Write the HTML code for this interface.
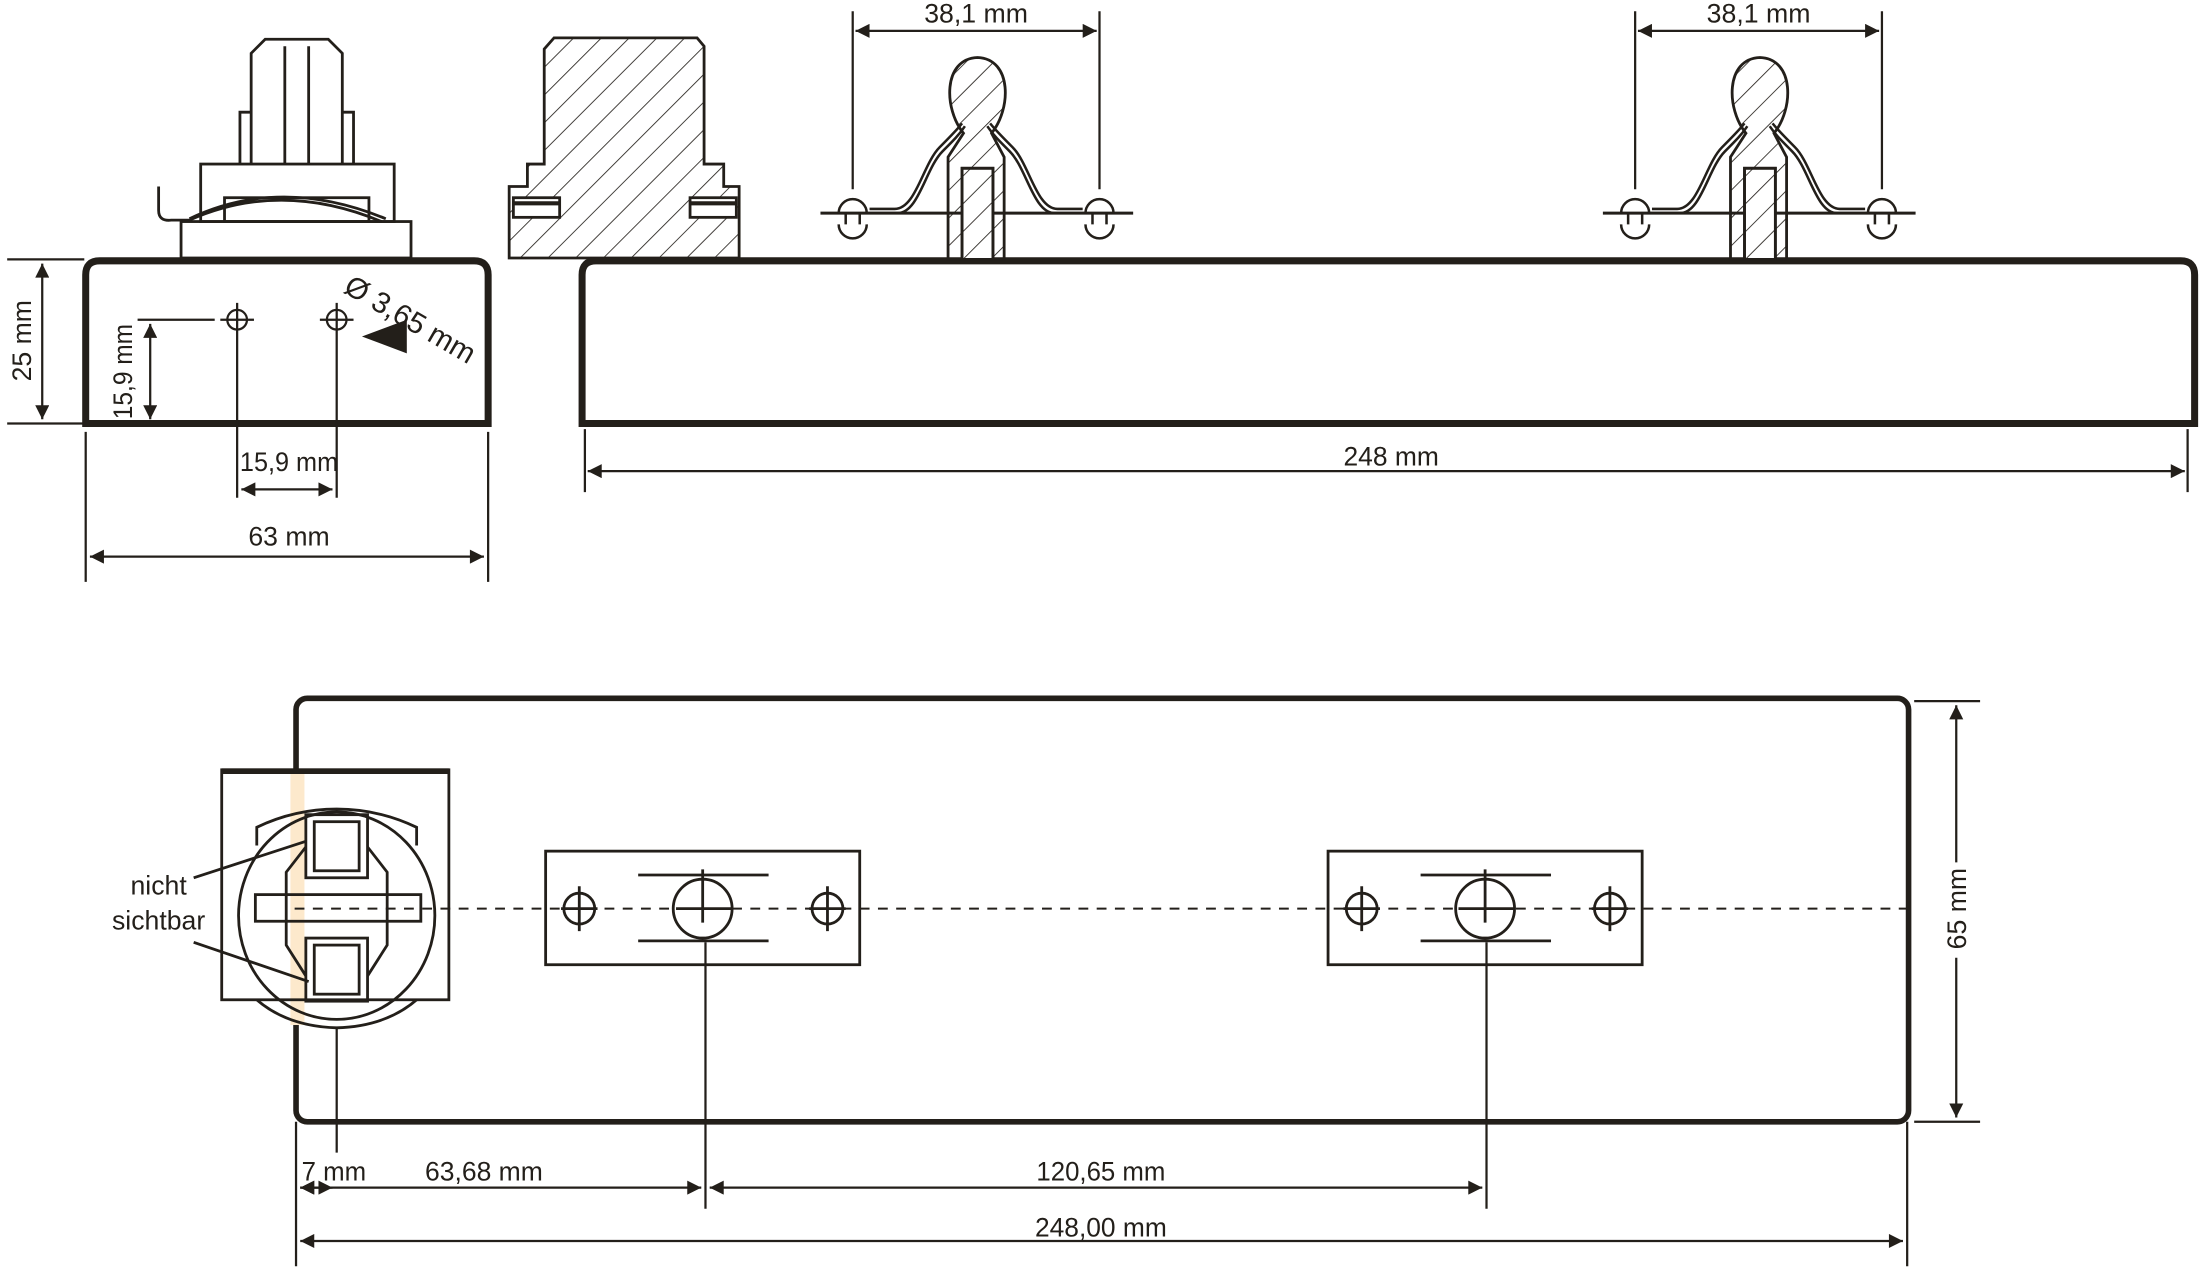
<!DOCTYPE html>
<html><head><meta charset="utf-8"><style>html,body{margin:0;padding:0;background:#fff}svg{display:block}</style></head><body>
<svg width="2199" height="1269" viewBox="0 0 1568 905" xmlns="http://www.w3.org/2000/svg" font-family="Liberation Sans, sans-serif" fill="none" stroke="#231f1a" stroke-width="1.6">
<defs>
<marker id="a" viewBox="0 0 10 10" refX="10" refY="5" markerWidth="12" markerHeight="10" markerUnits="userSpaceOnUse" orient="auto-start-reverse"><path d="M0,0L10,5L0,10z" fill="#231f1a" stroke="none"/></marker>
<pattern id="h" width="14" height="14" patternUnits="userSpaceOnUse" patternTransform="rotate(45)"><line x1="0" y1="0" x2="0" y2="14" stroke="#231f1a" stroke-width="1.2"/></pattern>
<g id="clip">
<line x1="608" y1="8" x2="608" y2="135"/><line x1="784" y1="8" x2="784" y2="135"/>
<line x1="610" y1="22" x2="782" y2="22" marker-start="url(#a)" marker-end="url(#a)"/>
<line x1="585" y1="152" x2="808" y2="152" stroke-width="2.2"/>
<path d="M598,152A10,10 0 0 1 618,152 M598,160A10,10 0 0 0 618,160 M603,152v8 M613,152v8 M774,152A10,10 0 0 1 794,152 M774,160A10,10 0 0 0 794,160 M779,152v8 M789,152v8" stroke-width="1.8"/>
<path d="M687,95 C673,78 672,42 697,41 C722,42 721,78 707,95 L716,112 L716,185 L676,185 L676,112 Z" fill="url(#h)" stroke-width="2"/>
<rect x="686" y="120" width="22" height="65" fill="#fff" stroke-width="2"/>
<rect x="686" y="120" width="22" height="65" fill="url(#h)" stroke-width="2"/>
<path d="M618,152 H640 C655,152 660,120 672,108 C680,100 684,96 688,90 M620,149 H638 C653,149 658,117 670,105 C678,97 682,93 686,88" stroke-width="1.8"/>
<path d="M774,152 H752 C737,152 732,120 720,108 C712,100 708,96 704,90 M772,149 H754 C739,149 734,117 722,105 C714,97 710,93 706,88" stroke-width="1.8"/>
<text x="696" y="16" font-size="19" fill="#231f1a" stroke="none" text-anchor="middle" textLength="74" lengthAdjust="spacingAndGlyphs">38,1 mm</text>
</g>
<g id="plate">
<rect x="389" y="607" width="224" height="81" stroke-width="2"/>
<circle cx="413" cy="648" r="11" stroke-width="2"/><circle cx="501" cy="648" r="21" stroke-width="2"/><circle cx="590" cy="648" r="11" stroke-width="2"/>
<path d="M413,632v32M400,648h26M590,632v32M577,648h26M501,620v38M482,648h40M455,624h93M455,671h93" stroke-width="2"/>
</g>
</defs>
<g fill="#231f1a" stroke="none" font-size="19">
<text x="206" y="389" text-anchor="middle" textLength="58" lengthAdjust="spacingAndGlyphs">63 mm</text>
<text x="206" y="336" text-anchor="middle" textLength="70" lengthAdjust="spacingAndGlyphs">15,9 mm</text>
<text transform="translate(22,243) rotate(-90)" text-anchor="middle">25 mm</text>
<text transform="translate(94,265) rotate(-90)" text-anchor="middle" textLength="68" lengthAdjust="spacingAndGlyphs">15,9 mm</text>
<text transform="translate(244,208) rotate(30)" font-size="21">Ø 3,65 mm</text>
<text x="992" y="332" text-anchor="middle" textLength="68" lengthAdjust="spacingAndGlyphs">248 mm</text>
<text x="238" y="842" text-anchor="middle" textLength="46" lengthAdjust="spacingAndGlyphs">7 mm</text>
<text x="345" y="842" text-anchor="middle" textLength="84" lengthAdjust="spacingAndGlyphs">63,68 mm</text>
<text x="785" y="842" text-anchor="middle" textLength="92" lengthAdjust="spacingAndGlyphs">120,65 mm</text>
<text x="785" y="882" text-anchor="middle" textLength="94" lengthAdjust="spacingAndGlyphs">248,00 mm</text>
<text transform="translate(1402,648) rotate(-90)" text-anchor="middle">65 mm</text>
<text x="113" y="638" text-anchor="middle">nicht</text>
<text x="113" y="663" text-anchor="middle">sichtbar</text>
</g>
<!-- left end view -->
<path d="M61,302 V196 Q61,186 71,186 H338 Q348,186 348,196 V302 Z" stroke-width="5"/>
<path d="M5,185h55M5,302h55" /><line x1="30" y1="188" x2="30" y2="299" marker-start="url(#a)" marker-end="url(#a)"/>
<circle cx="169" cy="228" r="7"/><circle cx="240" cy="228" r="7"/>
<path d="M157,228h24M169,216v24M228,228h24M240,216v24M169,240v115M240,240v115M98,228h55"/>
<line x1="107" y1="231" x2="107" y2="299" marker-start="url(#a)" marker-end="url(#a)"/>
<line x1="172" y1="349" x2="237" y2="349" marker-start="url(#a)" marker-end="url(#a)"/>
<path d="M61,308v107M348,308v107"/><line x1="64" y1="397" x2="345" y2="397" marker-start="url(#a)" marker-end="url(#a)"/>
<path d="M258,240L290,228L290,252Z" fill="#231f1a" stroke="none"/>
<!-- holder side -->
<path d="M179,117V38L189,28H234L244,38V117M203,33V117M220,33V117M171,117V80h8M252,117V80h-8" stroke-width="2"/>
<rect x="143" y="117" width="138" height="41" stroke-width="2"/><rect x="160" y="141" width="103" height="17" stroke-width="2"/>
<rect x="129" y="158" width="164" height="26" stroke-width="2"/>
<path d="M113,133V150Q113,158 122,157H135 Q200,128 272,158 M135,156 Q200,125 275,156" stroke-width="2"/>
<!-- hatched block -->
<path d="M388,117V35L395,27H497L502,33V117H516V133H527V184H363V133H376V117Z" fill="url(#h)" stroke-width="2"/>
<rect x="366" y="141" width="33" height="14" fill="#fff" stroke-width="2"/><rect x="492" y="141" width="33" height="14" fill="#fff" stroke-width="2"/>
<path d="M366,145h33M492,145h33" stroke-width="3"/>
<!-- long side view -->
<path d="M415,302V196Q415,186 425,186H1555Q1565,186 1565,196V302Z" stroke-width="5"/>
<path d="M417,306v45M1560,306v45"/><line x1="419" y1="336" x2="1558" y2="336" marker-start="url(#a)" marker-end="url(#a)"/>
<use href="#clip"/><use href="#clip" transform="translate(558,0)"/>
<!-- top view -->
<rect x="211" y="498" width="1150" height="302" rx="8" stroke-width="4"/>
<rect x="207" y="549" width="10" height="182" fill="#fde9cc" stroke="none"/>
<rect x="158" y="549" width="162" height="164" stroke-width="2"/>
<line x1="158" y1="550" x2="320" y2="550" stroke-width="4"/>
<path d="M183,713 Q205,732 240,733 Q275,732 297,713" stroke-width="2"/>
<path d="M183,603V590Q210,577 240,577Q270,577 297,590V603" stroke-width="2"/>
<ellipse cx="240" cy="653" rx="70" ry="74" stroke-width="2"/>
<path d="M218,604L204,622V674L218,696M262,604L276,622V674L262,696" stroke-width="2"/>
<rect x="182" y="638" width="118" height="19" stroke-width="2"/>
<rect x="218" y="581" width="44" height="45" stroke-width="2"/><rect x="224" y="586" width="32" height="35" stroke-width="2"/>
<rect x="218" y="669" width="44" height="45" stroke-width="2"/><rect x="224" y="674" width="32" height="35" stroke-width="2"/>
<path d="M138,626L218,600M138,672L220,700" stroke-width="2"/>
<line x1="210" y1="648" x2="1360" y2="648" stroke-dasharray="7,6" stroke-width="1.4"/>
<use href="#plate"/><use href="#plate" transform="translate(558,0)"/>
<path d="M503,672V862M1060,672V862M211,800V903M240,733V822M1360,800V903M1365,500H1412M1365,800H1412"/>
<line x1="214" y1="847" x2="237" y2="847" marker-start="url(#a)" marker-end="url(#a)"/>
<line x1="214" y1="847" x2="500" y2="847" marker-start="url(#a)" marker-end="url(#a)"/>
<line x1="506" y1="847" x2="1057" y2="847" marker-start="url(#a)" marker-end="url(#a)"/>
<line x1="214" y1="885" x2="1357" y2="885" marker-start="url(#a)" marker-end="url(#a)"/>
<line x1="1395" y1="503" x2="1395" y2="615" marker-start="url(#a)"/>
<line x1="1395" y1="683" x2="1395" y2="797" marker-end="url(#a)"/>
</svg>
</body></html>
